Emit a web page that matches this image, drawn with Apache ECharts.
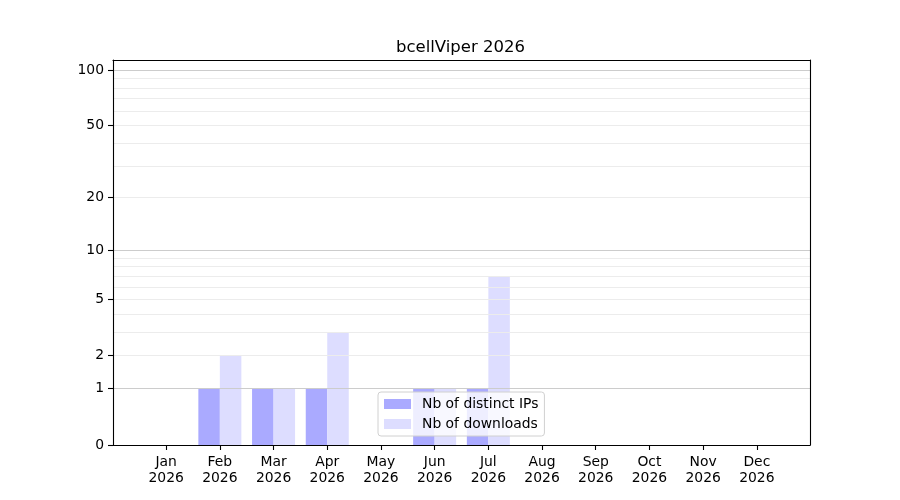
<!DOCTYPE html>
<html>
<head>
<meta charset="utf-8">
<script src="https://cdn.jsdelivr.net/npm/echarts@6/dist/echarts.min.js"></script>
<style>
  html, body { margin: 0; padding: 0; background: #fff; }
  #chart { width: 900px; height: 500px; }
</style>
</head>
<body>
<div id="chart"></div>
<script>
// data
const months = ['Jan', 'Feb', 'Mar', 'Apr', 'May', 'Jun', 'Jul', 'Aug', 'Sep', 'Oct', 'Nov', 'Dec'];
const year = '2026';
const distinctIPs = [0, 1, 1, 1, 0, 1, 1, 0, 0, 0, 0, 0];
const downloads = [0, 2, 1, 3, 0, 1, 7, 0, 0, 0, 0, 0];
// y ticks and grid, in counts (axis shows log10(1 + count))
const yTicks = [0, 1, 2, 5, 10, 20, 50, 100];
const majorGrid = [1, 10, 100];
const minorGrid = [2, 3, 4, 5, 6, 7, 8, 9, 20, 30, 40, 50, 60, 70, 80, 90];

const font = 'DejaVu Sans';
const shift = v => v + 1;   // log(1 + x) scale
const xMin = -0.99, xMax = 11.99;
const yMin = 1, yMax = 114.2;

let gridLines = majorGrid.map(v => ({ yAxis: shift(v), lineStyle: { color: '#cccccc', width: 1.1, type: 'solid' } }))
    .concat(minorGrid.map(v => ({ yAxis: shift(v), lineStyle: { color: '#ececec', width: 1.1, type: 'solid' } })));

const frameLine = { show: true, onZero: false, lineStyle: { color: '#000', width: 1.1 } };

let option = {
    animation: false,
    textStyle: { fontFamily: font },
    title: {
        text: 'bcellViper ' + year,
        left: 455.5,
        top: 34,
        textAlign: 'center',
        textStyle: { fontFamily: font, fontSize: 16.5, fontWeight: 'normal', color: '#000' }
    },
    grid: { left: 113, right: 90, top: 60, bottom: 55 },
    legend: {
        orient: 'vertical',
        left: 378,
        top: 392,
        z: 20,
        itemWidth: 27,
        itemHeight: 10,
        itemGap: 6,
        padding: [5, 6, 5, 6],
        backgroundColor: 'rgba(255,255,255,0.8)',
        borderColor: '#d0d0d0',
        borderWidth: 1,
        borderRadius: 3,
        icon: 'rect',
        textStyle: { fontFamily: font, fontSize: 13.9, color: '#000', padding: [0, 0, 0, 6], lineHeight: 14 },
        data: ['Nb of distinct IPs', 'Nb of downloads']
    },
    xAxis: [
        {
            type: 'value',
            position: 'bottom',
            min: xMin, max: xMax,
            z: 10,
            axisLine: frameLine,
            axisTick: { show: true, length: 5, customValues: months.map((m, i) => i), lineStyle: { color: '#000', width: 1.1 } },
            axisLabel: {
                customValues: months.map((m, i) => i),
                formatter: v => months[Math.round(v)] + '\n' + year,
                fontFamily: font, fontSize: 13.9, color: '#000', lineHeight: 16, margin: 9
            },
            splitLine: { show: false }
        },
        {
            type: 'value',
            position: 'top',
            min: xMin, max: xMax,
            z: 10,
            axisLine: frameLine,
            axisTick: { show: false },
            axisLabel: { show: false },
            splitLine: { show: false }
        }
    ],
    yAxis: [
        {
            type: 'log',
            logBase: 10,
            position: 'left',
            min: yMin, max: yMax,
            z: 10,
            axisLine: frameLine,
            axisTick: { show: true, length: 5, customValues: yTicks.map(shift), lineStyle: { color: '#000', width: 1.1 } },
            axisLabel: {
                customValues: yTicks.map(shift),
                formatter: v => String(Math.round(v - 1)),
                fontFamily: font, fontSize: 13.9, color: '#000', margin: 9
            },
            splitLine: { show: false },
            minorTick: { show: false },
            minorSplitLine: { show: false }
        },
        {
            type: 'log',
            logBase: 10,
            position: 'right',
            min: yMin, max: yMax,
            z: 10,
            axisLine: frameLine,
            axisTick: { show: false },
            axisLabel: { show: false },
            splitLine: { show: false }
        }
    ],
    series: [
        {
            name: 'Nb of distinct IPs',
            type: 'bar',
            barWidth: 21.5,
            barGap: '0%',
            itemStyle: { color: '#aaaaff' },
            data: distinctIPs.map((v, i) => [i, shift(v)])
        },
        {
            name: 'Nb of downloads',
            type: 'bar',
            barWidth: 21.5,
            barGap: '0%',
            itemStyle: { color: '#ddddff' },
            data: downloads.map((v, i) => [i, shift(v)]),
            markLine: {
                silent: true,
                symbol: 'none',
                z: 5,
                label: { show: false },
                emphasis: { disabled: true },
                data: gridLines
            }
        }
    ]
};

let myChart = echarts.init(document.getElementById('chart'));
myChart.setOption(option);
window.addEventListener('resize', function () {
    myChart.resize();
});
</script>
</body>
</html>
